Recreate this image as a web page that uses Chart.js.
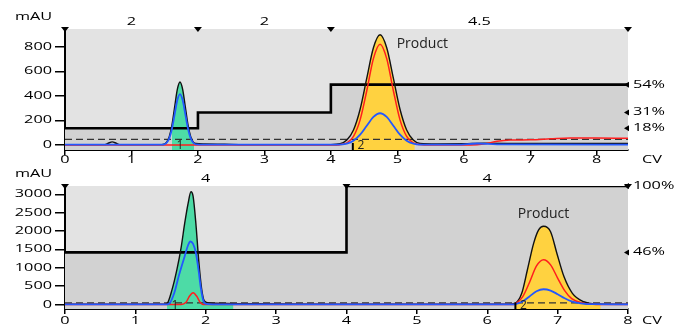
<!DOCTYPE html>
<html>
<head>
<meta charset="utf-8">
<script src="https://cdn.jsdelivr.net/npm/chart.js@4.4.1/dist/chart.umd.min.js"></script>
<style>
    body { margin: 0; background: #fff; }
    #wrap { position: relative; width: 675px; height: 327px; }
    canvas { position: absolute; left: 0; }
</style>
</head>
<body>
<div id="wrap">
    <canvas id="topChart" width="675" height="165" style="top:0"></canvas>
    <canvas id="bottomChart" width="675" height="162" style="top:165px"></canvas>
</div>
<script>
// ---- top run ----
const topXTicks = [0, 1, 2, 3, 4, 5, 6, 7, 8];
const topYTicks = [0, 200, 400, 600, 800];
const topPhaseBreaks = [0, 2, 4, 8.47];
const topPhaseLabels = ["2", "2", "4.5"];
const topPctLabels = [54, 31, 18];
const topFracFrom = [1.61, 4.33];
const topFracTo = [1.94, 5.26];
const topFracNames = ["1", "2"];

const topBlack = [[0, 3], [0.6, 3], [0.65, 14], [0.71, 25], [0.77, 14], [0.82, 3], [1.45, 3], [1.49, 6], [1.53, 23],
    [1.57, 70], [1.61, 167], [1.65, 312], [1.69, 454], [1.73, 514], [1.77, 454], [1.81, 312], [1.85, 167], [1.89, 70],
    [1.93, 23], [1.97, 12], [2.1, 9], [2.4, 6], [2.7, 3], [4.0, 3], [4.14, 10], [4.24, 40], [4.34, 122], [4.44, 292],
    [4.54, 546], [4.64, 794], [4.74, 900], [4.84, 794], [4.94, 546], [5.04, 292], [5.14, 122], [5.24, 40], [5.34, 12],
    [5.6, 8], [6.0, 10], [6.3, 14], [7.0, 12], [8.47, 12]];
const topBlue = [[0, 3], [1.45, 3], [1.49, 5], [1.53, 18], [1.57, 56], [1.61, 135], [1.65, 252], [1.69, 367], [1.73, 416],
    [1.77, 367], [1.81, 252], [1.85, 135], [1.89, 56], [1.93, 18], [1.97, 5], [2.1, 3], [4.1, 3], [4.24, 11], [4.34, 35],
    [4.44, 84], [4.54, 157], [4.64, 229], [4.74, 259], [4.84, 229], [4.94, 157], [5.04, 84], [5.14, 35], [5.24, 11],
    [5.34, 3], [5.9, 3], [6.2, 12], [6.5, 5], [8.47, 3]];
const topRed = [[0, 0], [4.1, 0], [4.14, 3], [4.24, 17], [4.34, 70], [4.44, 205], [4.54, 443], [4.64, 705], [4.74, 822],
    [4.84, 705], [4.94, 443], [5.04, 205], [5.14, 70], [5.24, 17], [5.34, 3], [5.4, 0], [6.1, 0], [6.3, 8], [6.5, 30],
    [6.7, 40], [7.0, 42], [7.3, 50], [7.6, 58], [8.0, 56], [8.47, 55]];
const topGradient = [[0, 18], [2, 31], [4, 54], [8.47, 54]];
const topDashed = [[0, 46], [8.47, 46]];

// ---- bottom run ----
const bottomXTicks = [0, 1, 2, 3, 4, 5, 6, 7, 8];
const bottomYTicks = [0, 500, 1000, 1500, 2000, 2500, 3000];
const bottomPhaseBreaks = [0, 4, 8];
const bottomPhaseLabels = ["4", "4"];
const bottomPctLabels = [100, 46];
const bottomFracFrom = [1.45, 6.40];
const bottomFracTo = [2.39, 7.61];
const bottomFracNames = ["1", "2"];

const bottomBlack = [[0, 8], [1.40, 10], [1.45, 30], [1.52, 400], [1.59, 950], [1.65, 1550], [1.70, 2200], [1.75, 2760],
    [1.79, 3070], [1.82, 2950], [1.86, 2200], [1.90, 1200], [1.94, 450], [1.98, 100], [2.05, 40], [2.5, 25], [3.0, 15],
    [4.0, 10], [6.3, 10], [6.40, 40], [6.49, 305], [6.57, 940], [6.66, 1670], [6.73, 2030], [6.80, 2130], [6.90, 1980],
    [6.99, 1390], [7.09, 760], [7.21, 305], [7.37, 76], [7.52, 15], [8, 10]];
const bottomBlue = [[0, 5], [1.45, 5], [1.48, 20], [1.55, 300], [1.62, 800], [1.70, 1310], [1.75, 1620], [1.78, 1715],
    [1.82, 1650], [1.86, 1400], [1.90, 900], [1.93, 450], [1.97, 80], [2.0, 15], [2.1, 5], [6.35, 5], [6.40, 10],
    [6.50, 80], [6.60, 220], [6.70, 360], [6.80, 415], [6.90, 380], [7.00, 280], [7.10, 170], [7.20, 85], [7.35, 25],
    [7.5, 8], [8, 5]];
const bottomRed = [[0, 0], [1.65, 0], [1.72, 60], [1.77, 230], [1.82, 317], [1.87, 230], [1.92, 60], [1.96, 0], [6.35, 0],
    [6.40, 20], [6.50, 200], [6.60, 600], [6.70, 1050], [6.80, 1220], [6.90, 1080], [7.00, 720], [7.10, 380], [7.20, 160],
    [7.35, 40], [7.5, 5], [7.6, 0], [8, 0]];
const bottomGradient = [[0, 46], [4, 100], [8, 100]];
const bottomDashed = [[0, 45], [8, 45]];

const pts = arr => arr.map(p => ({ x: p[0], y: p[1] }));

// axis text in the picture is squeezed vertically, so draw it wide
function wideText(ctx, str, x, y, align) {
    ctx.save();
    ctx.font = '10.5px "Open Sans"';
    ctx.fillStyle = "#000";
    ctx.textAlign = align;
    ctx.textBaseline = "middle";
    ctx.translate(x, y);
    ctx.scale(1.55, 1);
    ctx.fillText(str, 0, 0);
    ctx.restore();
}

function chromPlugin(c) {
    return {
        id: "chrom",
        beforeDraw(chart) {
            const { ctx, chartArea: a } = chart;
            ctx.save();
            ctx.fillStyle = "#e3e3e3";
            ctx.fillRect(a.left, a.top, a.right - a.left, a.bottom - a.top);
            ctx.restore();
        },
        beforeDatasetsDraw(chart) {
            // fraction fills under the UV trace (filler already drew the grey gradient area)
            const { ctx, chartArea: a } = chart;
            const x = chart.scales.x;
            const line = chart.getDatasetMeta(2).dataset;
            line.updateControlPoints(a, "x");
            const p = line.points;
            c.fracFrom.forEach((f, i) => {
                const x0 = x.getPixelForValue(f);
                const x1 = x.getPixelForValue(c.fracTo[i]);
                ctx.save();
                ctx.beginPath();
                ctx.rect(x0, a.top, x1 - x0, a.bottom - a.top);
                ctx.clip();
                ctx.beginPath();
                line.path(ctx);
                ctx.lineTo(p[p.length - 1].x, a.bottom);
                ctx.lineTo(p[0].x, a.bottom);
                ctx.closePath();
                ctx.fillStyle = c.fracColors[i];
                ctx.fill();
                ctx.restore();
            });
        },
        afterDraw(chart) {
            const { ctx, chartArea: a } = chart;
            const x = chart.scales.x, y = chart.scales.y, pct = chart.scales.pct;
            const base = y.getPixelForValue(0);

            c.fracFrom.forEach((f, i) => {
                const px = x.getPixelForValue(f);
                if (c.fracBar[i]) {
                    ctx.fillStyle = "#000";
                    ctx.fillRect(px - 1, base - 2, 2, a.bottom - base + 2);
                }
                ctx.font = '12px "Open Sans"';
                ctx.fillStyle = "#222";
                ctx.textAlign = "center";
                ctx.textBaseline = "middle";
                ctx.fillText(c.fracNames[i], px + 8, base + 1);
            });

            ctx.fillStyle = "#000";
            c.phaseBreaks.forEach(b => {
                const px = x.getPixelForValue(b);
                ctx.beginPath();
                ctx.moveTo(px - 4, a.top - 2);
                ctx.lineTo(px + 4, a.top - 2);
                ctx.lineTo(px, a.top + 3);
                ctx.closePath();
                ctx.fill();
            });
            c.phaseLabels.forEach((t, i) => {
                const mid = (c.phaseBreaks[i] + c.phaseBreaks[i + 1]) / 2;
                wideText(ctx, t, x.getPixelForValue(mid), a.top - 7, "center");
            });

            c.pctLabels.forEach(v => {
                const py = pct.getPixelForValue(v);
                ctx.fillStyle = "#000";
                ctx.beginPath();
                ctx.moveTo(a.right - 4, py);
                ctx.lineTo(a.right + 1, py - 3);
                ctx.lineTo(a.right + 1, py + 3);
                ctx.closePath();
                ctx.fill();
                wideText(ctx, v + "%", a.right + 5, py, "left");
            });

            c.xTicks.forEach(v => wideText(ctx, String(v), x.getPixelForValue(v), a.bottom + c.labelGap, "center"));
            c.yTicks.forEach(v => wideText(ctx, String(v), 52, y.getPixelForValue(v), "right"));
            wideText(ctx, "mAU", 15, a.top - 12, "left");
            wideText(ctx, "CV", 642, a.bottom + c.labelGap, "left");

            ctx.font = '14px "Open Sans"';
            ctx.fillStyle = "#222";
            ctx.textAlign = c.productAlign;
            ctx.textBaseline = "middle";
            ctx.fillText("Product", x.getPixelForValue(c.productAt[0]), y.getPixelForValue(c.productAt[1]));
        }
    };
}

function buildChart(id, c) {
    return new Chart(document.getElementById(id), {
        type: "line",
        data: {
            datasets: [
                { data: pts(c.blue), borderColor: "#2358ff", borderWidth: 1.8 },
                { data: pts(c.red), borderColor: "#ff1e1e", borderWidth: 1.5 },
                { data: pts(c.black), borderColor: "#111", borderWidth: 1.4 },
                { data: pts(c.dashed), borderColor: "#333", borderWidth: 1.2, borderDash: [7, 4] },
                {
                    data: pts(c.gradient), yAxisID: "pct", stepped: "before", fill: "start",
                    backgroundColor: "#d2d2d2", borderColor: "#000", borderWidth: 2.6
                }
            ]
        },
        options: {
            responsive: false,
            animation: false,
            devicePixelRatio: 1,
            layout: { padding: { top: c.top, left: 0, right: 47, bottom: 0 } },
            elements: {
                point: { radius: 0 },
                line: { cubicInterpolationMode: "monotone" }
            },
            plugins: {
                legend: { display: false },
                tooltip: { enabled: false },
                filler: { drawTime: "beforeDatasetsDraw" }
            },
            scales: {
                x: {
                    type: "linear", min: 0, max: c.xMax, z: 1,
                    afterBuildTicks: s => { s.ticks = c.xTicks.map(v => ({ value: v })); },
                    afterFit: s => { s.height = c.xHeight; },
                    ticks: { display: false },
                    grid: { drawOnChartArea: false, tickLength: 5, color: "#000", lineWidth: 1.5 },
                    border: { color: "#000", width: 2 }
                },
                y: {
                    position: "left", min: c.yMin, max: c.yMax, z: 1,
                    afterBuildTicks: s => { s.ticks = c.yTicks.map(v => ({ value: v })); },
                    afterFit: s => { s.width = 65; },
                    ticks: { display: false },
                    grid: { drawOnChartArea: false, tickLength: 10, color: "#000", lineWidth: 1.5 },
                    border: { color: "#000", width: 2 }
                },
                pct: { position: "right", min: 0, max: 100, display: false }
            }
        },
        plugins: [chromPlugin(c)]
    });
}

buildChart("topChart", {
    blue: topBlue, red: topRed, black: topBlack, dashed: topDashed, gradient: topGradient,
    xMax: 8.47, yMin: -41, yMax: 947, top: 29, xHeight: 15, labelGap: 10,
    xTicks: topXTicks, yTicks: topYTicks,
    phaseBreaks: topPhaseBreaks, phaseLabels: topPhaseLabels, pctLabels: topPctLabels,
    fracFrom: topFracFrom, fracTo: topFracTo, fracNames: topFracNames,
    fracColors: ["#4ddba6", "#ffd240"], fracBar: [false, true],
    productAt: [4.99, 825], productAlign: "left"
});

buildChart("bottomChart", {
    blue: bottomBlue, red: bottomRed, black: bottomBlack, dashed: bottomDashed, gradient: bottomGradient,
    xMax: 8, yMin: -122, yMax: 3226, top: 21, xHeight: 18, labelGap: 12,
    xTicks: bottomXTicks, yTicks: bottomYTicks,
    phaseBreaks: bottomPhaseBreaks, phaseLabels: bottomPhaseLabels, pctLabels: bottomPctLabels,
    fracFrom: bottomFracFrom, fracTo: bottomFracTo, fracNames: bottomFracNames,
    fracColors: ["#4ddba6", "#ffd240"], fracBar: [false, true],
    productAt: [6.8, 2460], productAlign: "center"
});
</script>
</body>
</html>
